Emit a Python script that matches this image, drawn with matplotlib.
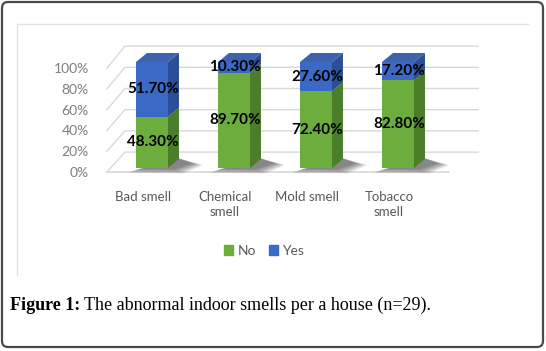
import matplotlib
matplotlib.use("Agg")
import matplotlib.pyplot as plt
import numpy as np
from matplotlib.patches import Polygon, Patch, FancyBboxPatch

plt.rcParams["font.family"] = ["Lato", "DejaVu Sans"]

# data
categories = ["Bad smell", "Chemical\nsmell", "Mold smell", "Tobacco\nsmell"]
no_pct = [48.3, 89.7, 72.4, 82.8]
yes_pct = [51.7, 10.3, 27.6, 17.2]
y_ticks = [0, 20, 40, 60, 80, 100]
series_names = ["No", "Yes"]

# colours (front / side / top)
GREEN, GREEN_SIDE = "#6cad3d", "#4b7d2b"
BLUE, BLUE_SIDE, BLUE_TOP = "#3a69c6", "#2b4e96", "#3e63ac"
GRID = "#d9d9d9"

W, H = 546, 351
fig = plt.figure(figsize=(W / 100, H / 100), dpi=100)


def px_box(x0, y0, x1, y1):
    return [x0 / W, 1 - y1 / H, (x1 - x0) / W, (y1 - y0) / H]


# overlay in pixel coords for frame + caption
ov = fig.add_axes([0, 0, 1, 1])
ov.set_xlim(0, W)
ov.set_ylim(H, 0)
ov.axis("off")
ov.add_patch(FancyBboxPatch((2, 2), 541, 345, boxstyle="round,pad=0,rounding_size=6",
                            ec="#4a4a4a", fc="white", lw=1.6))
ov.plot([17, 17, 528], [275, 24, 24], color="#e2e2e2", lw=1)

# main axes: bar front centre at px 152 + 82*i, value v at px 168 - 1.06*v
ax = fig.add_axes(px_box(90, 30, 500, 185))
ax.set_xlim((90 - 152) / 82, (500 - 152) / 82)
ax.set_ylim((168 - 185) / 1.06, (168 - 30) / 1.06)
ax.patch.set_visible(False)
for s in ax.spines.values():
    s.set_visible(False)

BW, DX, DY = 0.39, 0.134, 8.5  # bar width, depth offset


def wall_front(v):
    return 0.98 * v - 3.8


def wall_back(v):
    return v + 15


# walls / gridlines
for v in y_ticks:
    ax.plot([-0.55, -0.33, 3.98], [wall_front(v), wall_back(v), wall_back(v)],
            color=GRID, lw=1, zorder=1, clip_on=False)
ax.plot([-0.55, 3.62], [wall_front(0), wall_front(0)], color=GRID, lw=1.2, zorder=1, clip_on=False)

x = np.arange(len(categories))
no = np.array(no_pct)
yes = np.array(yes_pct)
top = no + yes

# soft shadows at the base (layered to fake a blur)
for xi in x:
    xr, xl = xi + BW / 2, xi - BW / 2
    for k in range(7):
        g = 0.022 * k
        pts = [(xl + 0.02 - g, -1.0 - 0.6 * k), (xr + 0.06 + g, -1.5 - 0.6 * k),
               (xr + DX + 0.16 + g, 4.5 - 0.3 * k), (xr + DX, DY + 0.5)]
        ax.add_patch(Polygon(pts, closed=True, fc="#2e2e2e", ec="none",
                             alpha=0.11, zorder=2))

ax.bar(x, no, width=BW, color=GREEN, zorder=3)
ax.bar(x, yes, bottom=no, width=BW, color=BLUE, zorder=3)

# depth faces
for xi, n, t in zip(x, no, top):
    xr, xl = xi + BW / 2, xi - BW / 2
    ax.add_patch(Polygon([(xr, 0), (xr + DX, DY), (xr + DX, n + DY), (xr, n)],
                         fc=GREEN_SIDE, ec="none", zorder=3))
    ax.add_patch(Polygon([(xr, n), (xr + DX, n + DY), (xr + DX, t + DY), (xr, t)],
                         fc=BLUE_SIDE, ec="none", zorder=3))
    ax.add_patch(Polygon([(xl, t), (xr, t), (xr + DX, t + DY), (xl + DX, t + DY)],
                         fc=BLUE_TOP, ec="none", zorder=3))

# value labels
for xi, n, y in zip(x, no, yes):
    ax.text(xi + 0.01, n / 2, f"{n:.2f}%", ha="center", va="center",
            fontsize=11, fontweight="bold", color="black", zorder=5)
    ax.text(xi + 0.01, n + y / 2, f"{y:.2f}%", ha="center", va="center",
            fontsize=11, fontweight="bold", color="black", zorder=5)

ax.set_yticks([wall_front(v) for v in y_ticks], labels=[f"{v}%" for v in y_ticks])
ax.set_xticks(x - 0.11, labels=categories)
ax.tick_params(axis="y", length=0, pad=1, labelsize=10, labelcolor="#7f7f7f")
ax.tick_params(axis="x", length=0, pad=4, labelsize=9.5, labelcolor="#595959")
for lab in ax.get_xticklabels():
    lab.set_linespacing(1.3)

handles = [Patch(color=GREEN, label=series_names[0]), Patch(color=BLUE, label=series_names[1])]
fig.legend(handles=handles, loc="center", bbox_to_anchor=(264 / W, 1 - 251 / H), ncol=2,
           frameon=False, fontsize=10, handlelength=0.65, handleheight=0.65,
           handletextpad=0.35, columnspacing=0.9, labelcolor="#595959")

# caption
serif = "Liberation Serif"
t1 = ov.text(10, 305, "Figure 1:", fontsize=13, fontweight="bold", family=serif,
             va="center", ha="left")
fig.canvas.draw()
bb = t1.get_window_extent()
x_end = ov.transData.inverted().transform((bb.x1, bb.y0))[0]
ov.text(x_end + 4, 305, "The abnormal indoor smells per a house (n=29).", fontsize=13,
        family=serif, va="center", ha="left")

fig.savefig("out.png", dpi=100)
